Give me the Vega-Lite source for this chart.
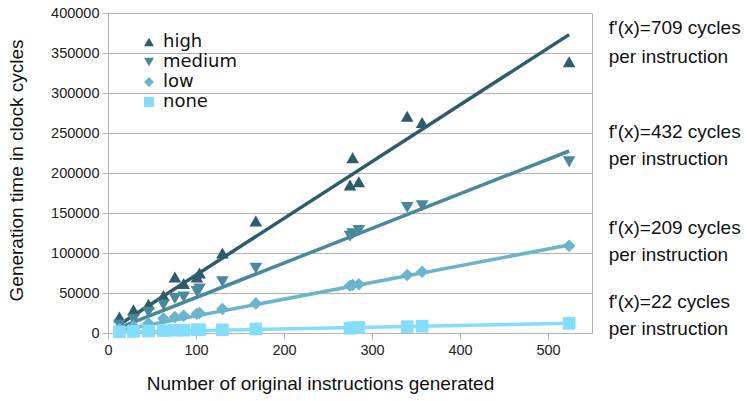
{
  "$schema": "https://vega.github.io/schema/vega-lite/v6.json",
  "autosize": {"type": "none"},
  "padding": {"left": 108, "top": 13, "right": 155, "bottom": 68},
  "width": 484,
  "height": 320,
  "background": "white",
  "config": {
    "view": {"stroke": "#b3b3b3", "strokeWidth": 1},
    "font": "Liberation Sans",
    "axis": {
      "labelFont": "Liberation Sans",
      "labelFontSize": 14.5,
      "labelColor": "#222222",
      "titleFont": "Liberation Sans",
      "titleFontSize": 19,
      "titleFontWeight": "normal",
      "titleColor": "#111111",
      "domainColor": "#b3b3b3",
      "tickColor": "#b3b3b3",
      "gridColor": "#b3b3b3",
      "tickSize": 6,
      "labelOverlap": false,
      "labelFlush": false
    },
    "legend": {
      "orient": "none",
      "legendX": 32,
      "legendY": 20,
      "padding": 0,
      "labelFont": "DejaVu Sans",
      "labelFontSize": 18,
      "labelColor": "#111111",
      "symbolSize": 100,
      "rowPadding": 2,
      "labelOffset": 5,
      "symbolOpacity": 1,
      "symbolStrokeWidth": 0
    }
  },
  "datasets": {
    "points": [
      {"series": "high", "x": 13, "y": 20000}, {"series": "high", "x": 29, "y": 29000}, {"series": "high", "x": 46, "y": 36000}, {"series": "high", "x": 63, "y": 47000}, {"series": "high", "x": 76, "y": 70000}, {"series": "high", "x": 86, "y": 62000}, {"series": "high", "x": 101, "y": 70000}, {"series": "high", "x": 104, "y": 75000}, {"series": "high", "x": 130, "y": 100000}, {"series": "high", "x": 168, "y": 140000}, {"series": "high", "x": 275, "y": 185000}, {"series": "high", "x": 278, "y": 219000}, {"series": "high", "x": 285, "y": 189000}, {"series": "high", "x": 340, "y": 271000}, {"series": "high", "x": 357, "y": 263000}, {"series": "high", "x": 524, "y": 339000},
      {"series": "medium", "x": 13, "y": 10000}, {"series": "medium", "x": 29, "y": 17000}, {"series": "medium", "x": 46, "y": 26000}, {"series": "medium", "x": 63, "y": 35000}, {"series": "medium", "x": 76, "y": 43000}, {"series": "medium", "x": 86, "y": 45000}, {"series": "medium", "x": 101, "y": 52000}, {"series": "medium", "x": 104, "y": 55000}, {"series": "medium", "x": 130, "y": 64000}, {"series": "medium", "x": 168, "y": 81000}, {"series": "medium", "x": 275, "y": 121000}, {"series": "medium", "x": 278, "y": 124000}, {"series": "medium", "x": 285, "y": 128000}, {"series": "medium", "x": 340, "y": 157000}, {"series": "medium", "x": 357, "y": 159000}, {"series": "medium", "x": 524, "y": 214000},
      {"series": "low", "x": 13, "y": 5000}, {"series": "low", "x": 29, "y": 8000}, {"series": "low", "x": 46, "y": 12000}, {"series": "low", "x": 63, "y": 18000}, {"series": "low", "x": 76, "y": 20000}, {"series": "low", "x": 86, "y": 21500}, {"series": "low", "x": 101, "y": 24000}, {"series": "low", "x": 104, "y": 25000}, {"series": "low", "x": 130, "y": 30000}, {"series": "low", "x": 168, "y": 37000}, {"series": "low", "x": 275, "y": 59000}, {"series": "low", "x": 278, "y": 60000}, {"series": "low", "x": 285, "y": 61000}, {"series": "low", "x": 340, "y": 72500}, {"series": "low", "x": 357, "y": 76500}, {"series": "low", "x": 524, "y": 109000},
      {"series": "none", "x": 13, "y": 1500}, {"series": "none", "x": 29, "y": 2000}, {"series": "none", "x": 46, "y": 2500}, {"series": "none", "x": 63, "y": 3000}, {"series": "none", "x": 76, "y": 3500}, {"series": "none", "x": 86, "y": 3500}, {"series": "none", "x": 101, "y": 4000}, {"series": "none", "x": 104, "y": 4000}, {"series": "none", "x": 130, "y": 4000}, {"series": "none", "x": 168, "y": 5000}, {"series": "none", "x": 275, "y": 6000}, {"series": "none", "x": 278, "y": 6500}, {"series": "none", "x": 285, "y": 7000}, {"series": "none", "x": 340, "y": 8000}, {"series": "none", "x": 357, "y": 8500}, {"series": "none", "x": 524, "y": 12000}
    ],
    "trend": [
      {"series": "high", "x": 13, "y": 10700}, {"series": "high", "x": 524, "y": 373000},
      {"series": "medium", "x": 13, "y": 6700}, {"series": "medium", "x": 524, "y": 227500},
      {"series": "low", "x": 13, "y": 3200}, {"series": "low", "x": 524, "y": 110000},
      {"series": "none", "x": 13, "y": 1000}, {"series": "none", "x": 524, "y": 12200}
    ],
    "notes": [
      {"label": "f'(x)=709 cycles", "x": 569, "y": 381250},
      {"label": "per instruction", "x": 569, "y": 345000},
      {"label": "f'(x)=432 cycles", "x": 569, "y": 251250},
      {"label": "per instruction", "x": 569, "y": 217500},
      {"label": "f'(x)=209 cycles", "x": 569, "y": 131250},
      {"label": "per instruction", "x": 569, "y": 97500},
      {"label": "f'(x)=22 cycles", "x": 569, "y": 38750},
      {"label": "per instruction", "x": 569, "y": 5000}
    ]
  },
  "encoding": {
    "x": {"field": "x", "type": "quantitative", "scale": {"domain": [0, 550], "nice": false},
      "axis": {"values": [0, 100, 200, 300, 400, 500], "grid": false, "title": "Number of original instructions generated", "titleX": 212, "titleY": 56, "titleAnchor": "middle", "titleAlign": "center", "titleBaseline": "alphabetic", "labelPadding": 4}},
    "y": {"field": "y", "type": "quantitative", "scale": {"domain": [0, 400000], "nice": false},
      "axis": {"values": [0, 50000, 100000, 150000, 200000, 250000, 300000, 350000, 400000], "format": "d", "grid": true, "title": "Generation time in clock cycles", "titleX": -92, "titleY": 157, "titleAnchor": "middle", "titleAlign": "center", "titleBaseline": "middle", "labelPadding": 3}}
  },
  "layer": [
    {
      "data": {"name": "trend"},
      "mark": {"type": "line", "strokeWidth": 3.5, "strokeCap": "butt"},
      "encoding": {
        "color": {"field": "series", "type": "nominal",
          "scale": {"domain": ["high", "medium", "low", "none"], "range": ["#2f5b6b", "#4a889c", "#6bb5cc", "#84ddfb"]},
          "legend": {"title": null}},
        "detail": {"field": "series"}
      }
    },
    {
      "data": {"name": "points"},
      "mark": {"type": "point", "filled": true, "opacity": 1, "size": 160},
      "encoding": {
        "color": {"field": "series", "type": "nominal",
          "scale": {"domain": ["high", "medium", "low", "none"], "range": ["#2f5b6b", "#4a889c", "#6bb5cc", "#84ddfb"]},
          "legend": {"title": null}},
        "shape": {"field": "series", "type": "nominal",
          "scale": {"domain": ["high", "medium", "low", "none"], "range": ["triangle-up", "triangle-down", "diamond", "square"]},
          "legend": {"title": null}}
      }
    },
    {
      "data": {"name": "notes"},
      "mark": {"type": "text", "align": "left", "baseline": "middle", "font": "Liberation Sans", "fontSize": 19, "color": "#111111"},
      "encoding": {
        "text": {"field": "label", "type": "nominal"}
      }
    }
  ]
}
